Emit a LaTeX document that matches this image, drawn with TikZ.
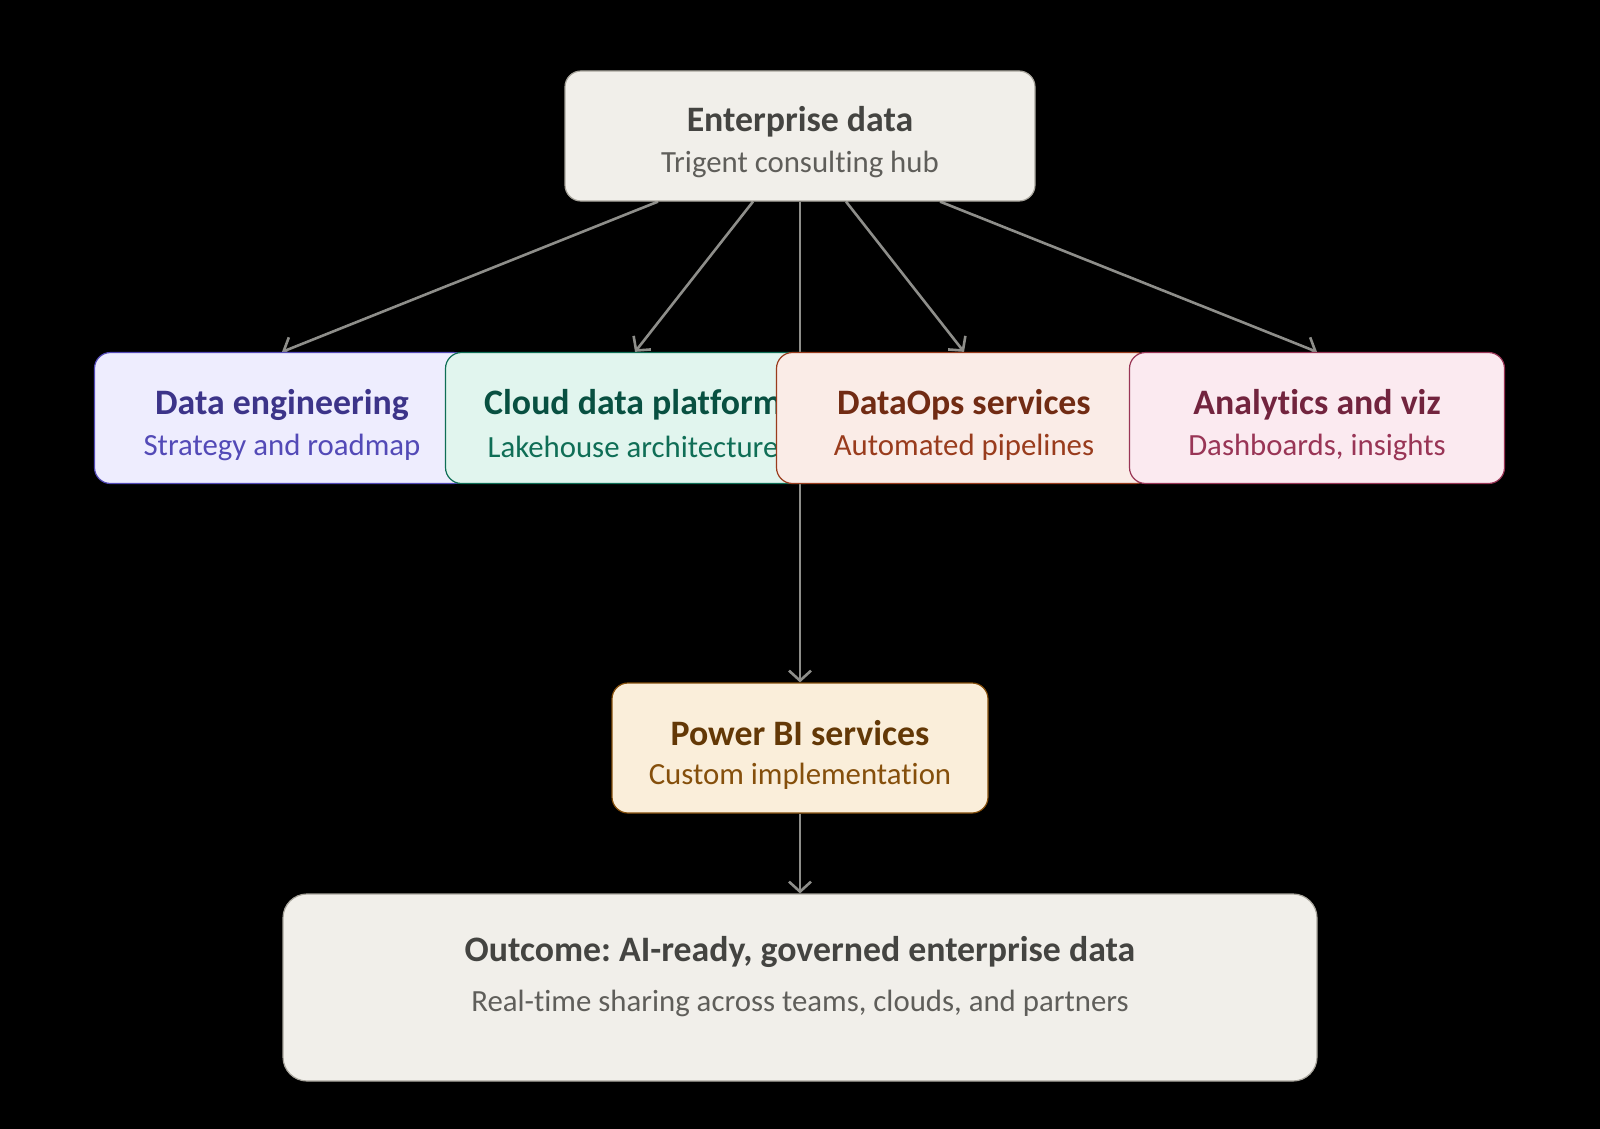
\documentclass[tikz,border=0pt]{standalone}
\usepackage{fontspec}
\setmainfont[Ligatures={NoCommon}]{Carlito}
\frenchspacing
\usetikzlibrary{arrows.meta,calc}
\pgfdeclarelayer{bg}\pgfdeclarelayer{edges}
\pgfsetlayers{bg,edges,main}
\definecolor{hubfill}{HTML}{F1EFEA}\definecolor{hubdraw}{HTML}{A8A59C}
\definecolor{hubttl}{HTML}{444441}\definecolor{hubsub}{HTML}{5F5E5A}
\definecolor{defill}{HTML}{EEEDFE}\definecolor{dedraw}{HTML}{534AB7}
\definecolor{dettl}{HTML}{3C3489}\definecolor{desub}{HTML}{534AB7}
\definecolor{cdfill}{HTML}{E1F5EE}\definecolor{cddraw}{HTML}{0F6E56}
\definecolor{cdttl}{HTML}{085041}\definecolor{cdsub}{HTML}{0F6E56}
\definecolor{dofill}{HTML}{FAECE7}\definecolor{dodraw}{HTML}{993C1D}
\definecolor{dottl}{HTML}{712B13}\definecolor{dosub}{HTML}{993C1D}
\definecolor{anfill}{HTML}{FBEAF0}\definecolor{andraw}{HTML}{993556}
\definecolor{anttl}{HTML}{72243E}\definecolor{ansub}{HTML}{993556}
\definecolor{pbfill}{HTML}{FAEEDA}\definecolor{pbdraw}{HTML}{854F0B}
\definecolor{pbttl}{HTML}{633806}\definecolor{pbsub}{HTML}{854F0B}
\definecolor{arrowgray}{HTML}{8E8E8A}
\tikzset{
  box/.style={rectangle, rounded corners=8pt, line width=0.6pt, inner sep=0pt},
  rowbox/.style={box, minimum width=187.5pt, minimum height=65.5pt},
  ttl/.style={font=\fontsize{17.9}{19}\selectfont\bfseries, inner sep=0pt},
  sub/.style={font=\fontsize{15.4}{17}\selectfont, inner sep=0pt},
  conn/.style={draw=arrowgray, line width=1.3pt, -{Straight Barb[length=5pt,width=11pt]}}
}
\begin{document}
\begin{tikzpicture}[x=0.5pt,y=-0.5pt]
\begin{pgfonlayer}{bg}
\fill[black] (0,0) rectangle (1600,1129);
\end{pgfonlayer}
\useasboundingbox (0,0) rectangle (1600,1129);

% hub
\node[box, fill=hubfill, draw=hubdraw, minimum width=235pt, minimum height=65pt] (hub) at (800,136) {};
\node[ttl, text=hubttl] (hubt) at (800,122) {Enterprise data};
\node[sub, text=hubsub] (hubs) at (800,164) {Trigent consulting hub};

% row
\node[rowbox, fill=defill, draw=dedraw] (de) at (282,418) {};
\node[ttl, text=dettl] (det) at (282,405) {Data engineering};
\node[sub, text=desub] (des) at (282,447) {Strategy and roadmap};

\node[rowbox, fill=cdfill, draw=cddraw] (cd) at (633,418) {};
\node[ttl, text=cdttl] (cdt) at (633,405) {Cloud data platform};
\node[sub, text=cdsub] (cds) at (633,447) {Lakehouse architecture};

\node[rowbox, fill=dofill, draw=dodraw] (do) at (964,418) {};
\node[ttl, text=dottl] (dot) at (964,405) {DataOps services};
\node[sub, text=dosub] (dos) at (964,447) {Automated pipelines};

\node[rowbox, fill=anfill, draw=andraw] (an) at (1317,418) {};
\node[ttl, text=anttl] (ant) at (1317,405) {Analytics and viz};
\node[sub, text=ansub] (ans) at (1317,447) {Dashboards, insights};

% power bi
\node[box, fill=pbfill, draw=pbdraw, minimum width=188pt, minimum height=65pt] (pb) at (800,748) {};
\node[ttl, text=pbttl] (pbt) at (800,733) {Power BI services};
\node[sub, text=pbsub] (pbs) at (800,776) {Custom implementation};

% outcome
\node[box, rounded corners=12pt, fill=hubfill, draw=hubdraw, minimum width=517pt, minimum height=93.5pt] (out) at (800,987.5) {};
\node[ttl, text=hubttl] (outt) at (800,952) {Outcome: AI-ready, governed enterprise data};
\node[sub, text=hubsub] (outs) at (800,1003) {Real-time sharing across teams, clouds, and partners};

\begin{pgfonlayer}{edges}
\draw[conn] ($(hub.south)+(-142,0)$) -- (de.north);
\draw[conn] ($(hub.south)+(-47,0)$) -- ($(cd.north)+(2,0)$);
\draw[conn] (hub.south) -- (pb.north);
\draw[conn] ($(hub.south)+(46,0)$) -- (do.north);
\draw[conn] ($(hub.south)+(140,0)$) -- (an.north);
\draw[conn] (pb.south) -- (out.north);
\end{pgfonlayer}
\end{tikzpicture}
\end{document}
